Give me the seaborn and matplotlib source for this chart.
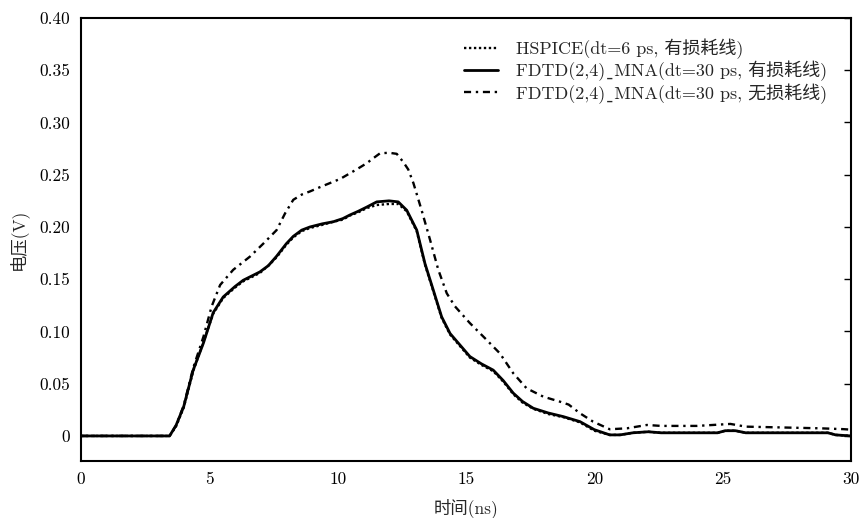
import numpy as np
import pandas as pd
import matplotlib
matplotlib.use("Agg")
import matplotlib.pyplot as plt
import seaborn as sns

# ---- data ----
t_fdtd = [0, 3.45, 3.7, 4.0, 4.37, 4.77, 5.15, 5.54, 6.0, 6.32, 6.97, 7.3, 7.62, 8.0, 8.27, 8.6,
          8.92, 9.4, 9.83, 10.2, 10.48, 10.8, 11.13, 11.52, 12.0, 12.36, 12.69, 13.08, 13.4,
          13.72, 14.05, 14.38, 14.8, 15.15, 15.6, 16.06, 16.45, 16.84, 17.2, 17.62, 18.2,
          18.79, 19.44, 20.0, 20.6, 21.0, 21.5, 22.1, 22.6, 24.8, 25.1, 25.5, 25.9, 29.1,
          29.4, 30.0]
v_fdtd_lossy = [0, 0, 0.010, 0.028, 0.063, 0.089, 0.118, 0.133, 0.143, 0.149, 0.157, 0.163,
                0.172, 0.184, 0.191, 0.197, 0.200, 0.203, 0.205, 0.208, 0.2115, 0.215, 0.219,
                0.224, 0.225, 0.224, 0.216, 0.197, 0.165, 0.140, 0.114, 0.098, 0.086, 0.076,
                0.069, 0.063, 0.053, 0.041, 0.033, 0.0265, 0.022, 0.0185, 0.0137, 0.006,
                0.001, 0.001, 0.003, 0.004, 0.003, 0.003, 0.005, 0.005, 0.003, 0.003, 0.001, 0.0]
v_hspice = [0, 0, 0.009, 0.027, 0.062, 0.090, 0.117, 0.132, 0.142, 0.148, 0.156, 0.163,
            0.171, 0.183, 0.190, 0.196, 0.199, 0.202, 0.205, 0.207, 0.211, 0.214, 0.218,
            0.221, 0.222, 0.222, 0.215, 0.196, 0.164, 0.139, 0.113, 0.097, 0.085, 0.075,
            0.068, 0.062, 0.052, 0.040, 0.032, 0.026, 0.021, 0.018, 0.013, 0.005,
            0.001, 0.001, 0.003, 0.004, 0.003, 0.003, 0.005, 0.005, 0.003, 0.003, 0.001, 0.0]

t_lossless = [0, 3.45, 3.7, 4.0, 4.37, 4.77, 5.09, 5.42, 5.93, 6.58, 7.1, 7.62, 7.95, 8.27, 8.6,
              8.92, 9.3, 9.7, 10.1, 10.48, 10.8, 11.13, 11.4, 11.65, 12.0, 12.3, 12.56, 12.75,
              12.95, 13.27, 13.6, 13.92, 14.25, 14.57, 15.15, 15.8, 16.32, 16.84, 17.36, 18.01,
              18.66, 19.0, 19.44, 19.95, 20.6, 21.27, 22.05, 22.6, 24.0, 25.3, 25.9, 28.8,
              29.7, 30.0]
v_fdtd_lossless = [0, 0, 0.010, 0.029, 0.065, 0.095, 0.124, 0.1445, 0.159, 0.1716, 0.184,
                   0.197, 0.213, 0.226, 0.231, 0.234, 0.238, 0.242, 0.246, 0.2514, 0.256,
                   0.261, 0.266, 0.2705, 0.271, 0.270, 0.262, 0.255, 0.242, 0.216, 0.1876,
                   0.159, 0.1365, 0.124, 0.108, 0.092, 0.079, 0.060, 0.0456, 0.0376, 0.0328,
                   0.030, 0.0217, 0.0137, 0.0064, 0.0073, 0.0105, 0.0096, 0.0096, 0.0115,
                   0.0089, 0.0073, 0.0065, 0.006]

# The underscore is written with U+02CD: the cmr10 font maps "_" to a dot accent.
labels = ["HSPICE(dt=6 ps, 有损耗线)",
          "FDTD(2,4)\u02cdMNA(dt=30 ps, 有损耗线)",
          "FDTD(2,4)\u02cdMNA(dt=30 ps, 无损耗线)"]
x_ticks = [0, 5, 10, 15, 20, 25, 30]
y_ticks = [0, 0.05, 0.10, 0.15, 0.20, 0.25, 0.30, 0.35, 0.40]
y_tick_labels = ["0", "0.05", "0.10", "0.15", "0.20", "0.25", "0.30", "0.35", "0.40"]

sns.set_style("white")
plt.rcParams["font.family"] = ["cmr10", "Noto Sans CJK SC", "DejaVu Sans"]
plt.rcParams["axes.formatter.use_mathtext"] = True
plt.rcParams["mathtext.fontset"] = "cm"

fig = plt.figure(figsize=(8.61, 5.18), dpi=100)
ax = fig.add_axes([0.0941, 0.110, 0.8943, 0.8553])

sns.lineplot(x=t_fdtd, y=v_hspice, ax=ax, color="black", lw=1.7,
             linestyle=(0, (1, 1.1)), label=labels[0])
sns.lineplot(x=t_fdtd, y=v_fdtd_lossy, ax=ax, color="black", lw=2.0,
             linestyle="-", label=labels[1])
sns.lineplot(x=t_lossless, y=v_fdtd_lossless, ax=ax, color="black", lw=1.7,
             linestyle=(0, (3, 2, 1, 2)), label=labels[2])

ax.set_xlim(0, 30)
ax.set_ylim(-0.024, 0.40)
ax.set_xticks(x_ticks)
ax.set_xticklabels([str(v) for v in x_ticks])
ax.set_yticks(y_ticks)
ax.set_yticklabels(y_tick_labels)
ax.tick_params(direction="in", length=5, width=1.0, top=False, right=True,
               labelsize=12.5, pad=8, colors="black")
for s in ax.spines.values():
    s.set_linewidth(1.5)
    s.set_color("black")

ax.set_xlabel("时间(ns)", fontsize=12.5, labelpad=8)
ax.set_ylabel("电压(V)", fontsize=12.5, labelpad=8)

leg = ax.legend(loc="upper right", bbox_to_anchor=(0.983, 0.978), frameon=False,
                fontsize=13, handlelength=1.9, handletextpad=1.0, labelspacing=0.1,
                borderaxespad=0.2)

fig.savefig("out.png", dpi=100)
